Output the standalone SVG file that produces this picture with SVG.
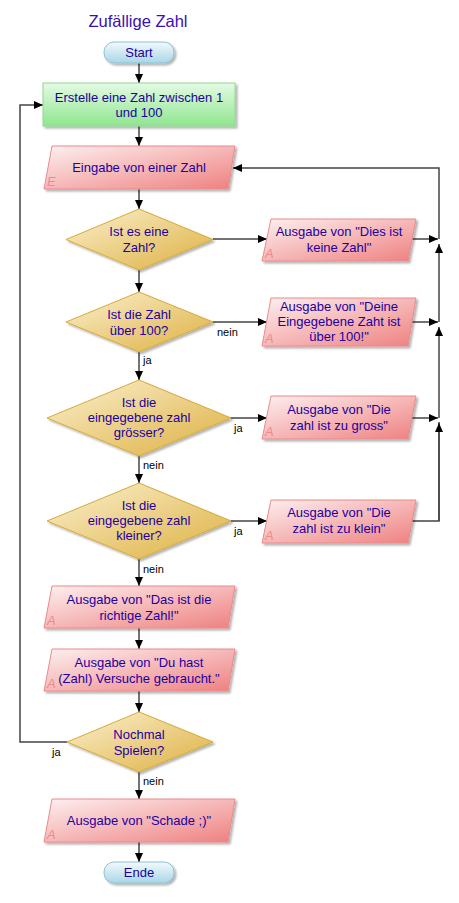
<svg xmlns="http://www.w3.org/2000/svg" width="459" height="903" viewBox="0 0 459 903">
<defs>
<linearGradient id="gTerm" x1="0" y1="0" x2="0" y2="1"><stop offset="0" stop-color="#f2fafd"/><stop offset="1" stop-color="#a9d6e6"/></linearGradient>
<linearGradient id="gProc" x1="0" y1="0" x2="0" y2="1"><stop offset="0" stop-color="#e4fbe4"/><stop offset="1" stop-color="#8fe58f"/></linearGradient>
<linearGradient id="gIO" x1="0" y1="0" x2="1" y2="1"><stop offset="0" stop-color="#fdf0f0"/><stop offset="1" stop-color="#ef8080"/></linearGradient>
<linearGradient id="gDec" x1="0" y1="0" x2="1" y2="1"><stop offset="0" stop-color="#fbf0cf"/><stop offset="1" stop-color="#ddb040"/></linearGradient>
<filter id="sh" x="-10%" y="-10%" width="130%" height="140%"><feDropShadow dx="2" dy="2" stdDeviation="1" flood-color="#000" flood-opacity="0.3"/></filter>
<marker id="ah" markerWidth="10" markerHeight="10" refX="9" refY="5" orient="auto" markerUnits="userSpaceOnUse"><path d="M0,1 L9,5 L0,9 Z" fill="#000"/></marker>
<style>
.t{font-family:"Liberation Sans",Arial,sans-serif;font-size:13px;fill:#2200a0;text-anchor:middle}
.title{font-family:"Liberation Sans",Arial,sans-serif;font-size:16.5px;fill:#3a10b0;text-anchor:middle}
.lbl{font-family:"Liberation Sans",Arial,sans-serif;font-size:11px;fill:#000}
.io{fill:url(#gIO);stroke:#ea8a8a;stroke-width:1;filter:url(#sh)}
.dec{fill:url(#gDec);stroke:#d6aa35;stroke-width:1;filter:url(#sh)}
.term{fill:url(#gTerm);stroke:#8fc0d2;stroke-width:1;filter:url(#sh)}
.proc{fill:url(#gProc);stroke:#8ed88e;stroke-width:1;filter:url(#sh)}
.tag{font-family:"Liberation Sans",Arial,sans-serif;font-size:13px;font-style:italic;fill:#f08a8a}
.c{fill:none;stroke:#444;stroke-width:1.5}
.ca{fill:none;stroke:#444;stroke-width:1.5;marker-end:url(#ah)}
</style>
</defs>
<rect width="459" height="903" fill="#fff"/>
<text class="title" x="138" y="27">Zufällige Zahl</text>

<g id="connectors">
<path class="ca" d="M139,63 V83"/>
<path class="ca" d="M139,126 V146"/>
<path class="ca" d="M139,189 V209"/>
<path class="ca" d="M139,270 V292"/>
<path class="ca" d="M139,352 V380"/>
<path class="ca" d="M139,456 V483"/>
<path class="ca" d="M139,559 V586"/>
<path class="ca" d="M139,628 V649"/>
<path class="ca" d="M139,691 V712"/>
<path class="ca" d="M139,772 V799"/>
<path class="ca" d="M139,842 V862"/>
<path class="ca" d="M213,239 H267"/>
<path class="ca" d="M412,239 H438"/>
<path class="ca" d="M213,322 H267"/>
<path class="ca" d="M412,322 H438"/>
<path class="ca" d="M231,418 H267"/>
<path class="ca" d="M412,418 H438"/>
<path class="ca" d="M231,521 H267"/>
<path class="c" d="M411,521 H439 V422"/>
<path class="ca" d="M439,521 V423"/>
<path class="ca" d="M439,418 V327"/>
<path class="ca" d="M439,322 V244"/>
<path class="ca" d="M439,239 V168 H233"/>
<path class="ca" d="M67,742 H20 V105 H43"/>
<text class="lbl" x="217" y="336">nein</text>
<text class="lbl" x="143" y="364">ja</text>
<text class="lbl" x="234" y="432">ja</text>
<text class="lbl" x="143" y="469">nein</text>
<text class="lbl" x="234" y="535">ja</text>
<text class="lbl" x="143" y="573">nein</text>
<text class="lbl" x="52" y="756">ja</text>
<text class="lbl" x="143" y="785">nein</text>
</g>

<g id="start"><rect class="term" x="104" y="42" width="70" height="21" rx="10"/><text class="t" x="139" y="57">Start</text></g>
<g id="create"><rect class="proc" x="43" y="83" width="192" height="43"/><text class="t" x="139" y="102">Erstelle eine Zahl zwischen 1</text><text class="t" x="139" y="117">und 100</text></g>
<g id="input"><polygon class="io" points="52,146 235,146 228,189 44,189"/><text class="t" x="139" y="172">Eingabe von einer Zahl</text><text class="tag" x="47" y="186">E</text></g>
<g id="dec1"><polygon class="dec" points="139,209 213,239.5 139,270 66,239.5"/><text class="t" x="139" y="236">Ist es eine</text><text class="t" x="139" y="252">Zahl?</text></g>
<g id="out1"><polygon class="io" points="271,219 416,219 408,261 262,261"/><text class="t" x="339" y="236">Ausgabe von "Dies ist</text><text class="t" x="339" y="252">keine Zahl"</text><text class="tag" x="265" y="258">A</text></g>
<g id="dec2"><polygon class="dec" points="139,292 213,322 139,352 66,322"/><text class="t" x="139" y="319">Ist die Zahl</text><text class="t" x="139" y="335">über 100?</text></g>
<g id="out2"><polygon class="io" points="271,298 416,298 408,346 262,346"/><text class="t" x="339" y="311">Ausgabe von "Deine</text><text class="t" x="339" y="326">Eingegebene Zaht ist</text><text class="t" x="339" y="341">über 100!"</text><text class="tag" x="265" y="343">A</text></g>
<g id="dec3"><polygon class="dec" points="139,380 231,418 139,456 47,418"/><text class="t" x="139" y="407">Ist die</text><text class="t" x="139" y="422">eingegebene zahl</text><text class="t" x="139" y="437">grösser?</text></g>
<g id="out3"><polygon class="io" points="271,396 416,396 408,439 262,439"/><text class="t" x="339" y="414">Ausgabe von "Die</text><text class="t" x="339" y="430">zahl ist zu gross"</text><text class="tag" x="265" y="436">A</text></g>
<g id="dec4"><polygon class="dec" points="139,483 231,521 139,559 47,521"/><text class="t" x="139" y="510">Ist die</text><text class="t" x="139" y="525">eingegebene zahl</text><text class="t" x="139" y="540">kleiner?</text></g>
<g id="out4"><polygon class="io" points="271,500 416,500 408,543 262,543"/><text class="t" x="339" y="517">Ausgabe von "Die</text><text class="t" x="339" y="533">zahl ist zu klein"</text><text class="tag" x="265" y="540">A</text></g>
<g id="out5"><polygon class="io" points="52,586 235,586 228,628 44,628"/><text class="t" x="139" y="604">Ausgabe von "Das ist die</text><text class="t" x="139" y="620">richtige Zahl!"</text><text class="tag" x="47" y="625">A</text></g>
<g id="out6"><polygon class="io" points="52,649 235,649 228,691 44,691"/><text class="t" x="139" y="667">Ausgabe von "Du hast</text><text class="t" x="139" y="683">(Zahl) Versuche gebraucht."</text><text class="tag" x="47" y="688">A</text></g>
<g id="dec5"><polygon class="dec" points="139,712 213,742 139,772 67,742"/><text class="t" x="139" y="739">Nochmal</text><text class="t" x="139" y="755">Spielen?</text></g>
<g id="out7"><polygon class="io" points="52,799 235,799 228,842 44,842"/><text class="t" x="139" y="825">Ausgabe von "Schade ;)"</text><text class="tag" x="47" y="839">A</text></g>
<g id="end"><rect class="term" x="104" y="862" width="70" height="21" rx="10"/><text class="t" x="139" y="877">Ende</text></g>
</svg>
